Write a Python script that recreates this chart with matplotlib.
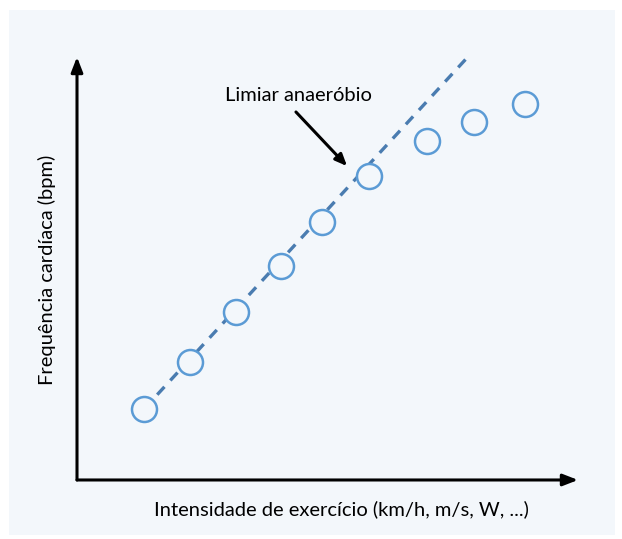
import matplotlib.pyplot as plt
from matplotlib.patches import Rectangle

# exercise intensity (arbitrary units) vs heart rate (arbitrary units)
intensity = [1.34, 2.26, 3.18, 4.08, 4.88, 5.82, 6.98, 7.92, 8.94]
heart_rate = [1.68, 2.79, 3.97, 5.06, 6.10, 7.19, 8.01, 8.46, 8.89]

# linear trend of the first points, extended past the threshold
trend_x = [1.34, 7.80]
trend_y = [1.68, 10.0]

threshold_label = 'Limiar anaeróbio'
threshold_text_xy = (4.41, 9.08)
threshold_arrow_from = (4.37, 8.70)
threshold_arrow_to = (5.39, 7.42)

xlabel = 'Intensidade de exercício (km/h, m/s, W, ...)'
ylabel = 'Frequência cardíaca (bpm)'

plt.rcParams['font.family'] = ['Lato', 'DejaVu Sans']

panel_color = '#f3f7fb'
circle_color = '#5b9bd5'
trend_color = '#4a7cb0'

fig = plt.figure(figsize=(6.22, 5.39), dpi=100)
fig.patch.set_facecolor('white')
fig.patches.append(Rectangle((0.0145, 0.0074), 0.974, 0.974, transform=fig.transFigure,
                             facecolor=panel_color, edgecolor='none', zorder=-10))

ax = fig.add_axes([0.1238, 0.1095, 0.8055, 0.7848])
ax.set_facecolor('none')
ax.set_xlim(0, 10)
ax.set_ylim(0, 10)
for s in ax.spines.values():
    s.set_visible(False)
ax.set_xticks([])
ax.set_yticks([])

# axis arrows
arrow_kw = dict(arrowstyle='-|>,head_length=0.9,head_width=0.35', color='black', lw=2.2,
                shrinkA=0, shrinkB=0)
ax.annotate('', xy=(1, 0), xytext=(0, 0), xycoords='axes fraction',
            arrowprops=arrow_kw, annotation_clip=False)
ax.annotate('', xy=(0, 1), xytext=(0, 0), xycoords='axes fraction',
            arrowprops=arrow_kw, annotation_clip=False)

ax.plot(trend_x, trend_y, color=trend_color, lw=2.4, ls=(0, (3.2, 2.6)), zorder=2,
        clip_on=False)
ax.plot(intensity, heart_rate, 'o', ms=18, mfc=panel_color, mec=circle_color, mew=1.8,
        zorder=3, clip_on=False)

ax.text(threshold_text_xy[0], threshold_text_xy[1], threshold_label, ha='center', va='center',
        fontsize=14.5)
ax.annotate('', xy=threshold_arrow_to, xytext=threshold_arrow_from,
            arrowprops=dict(arrowstyle='-|>,head_length=0.7,head_width=0.3', color='black',
                            lw=2.2, shrinkA=0, shrinkB=0))

ax.set_xlabel(xlabel, fontsize=14.5)
ax.xaxis.set_label_coords(0.527, -0.069)
ax.xaxis.label.set_va('center')
ax.set_ylabel(ylabel, fontsize=14.5)
ax.yaxis.set_label_coords(-0.060, 0.496)
ax.yaxis.label.set_va('center')

plt.savefig('out.png', dpi=100)
